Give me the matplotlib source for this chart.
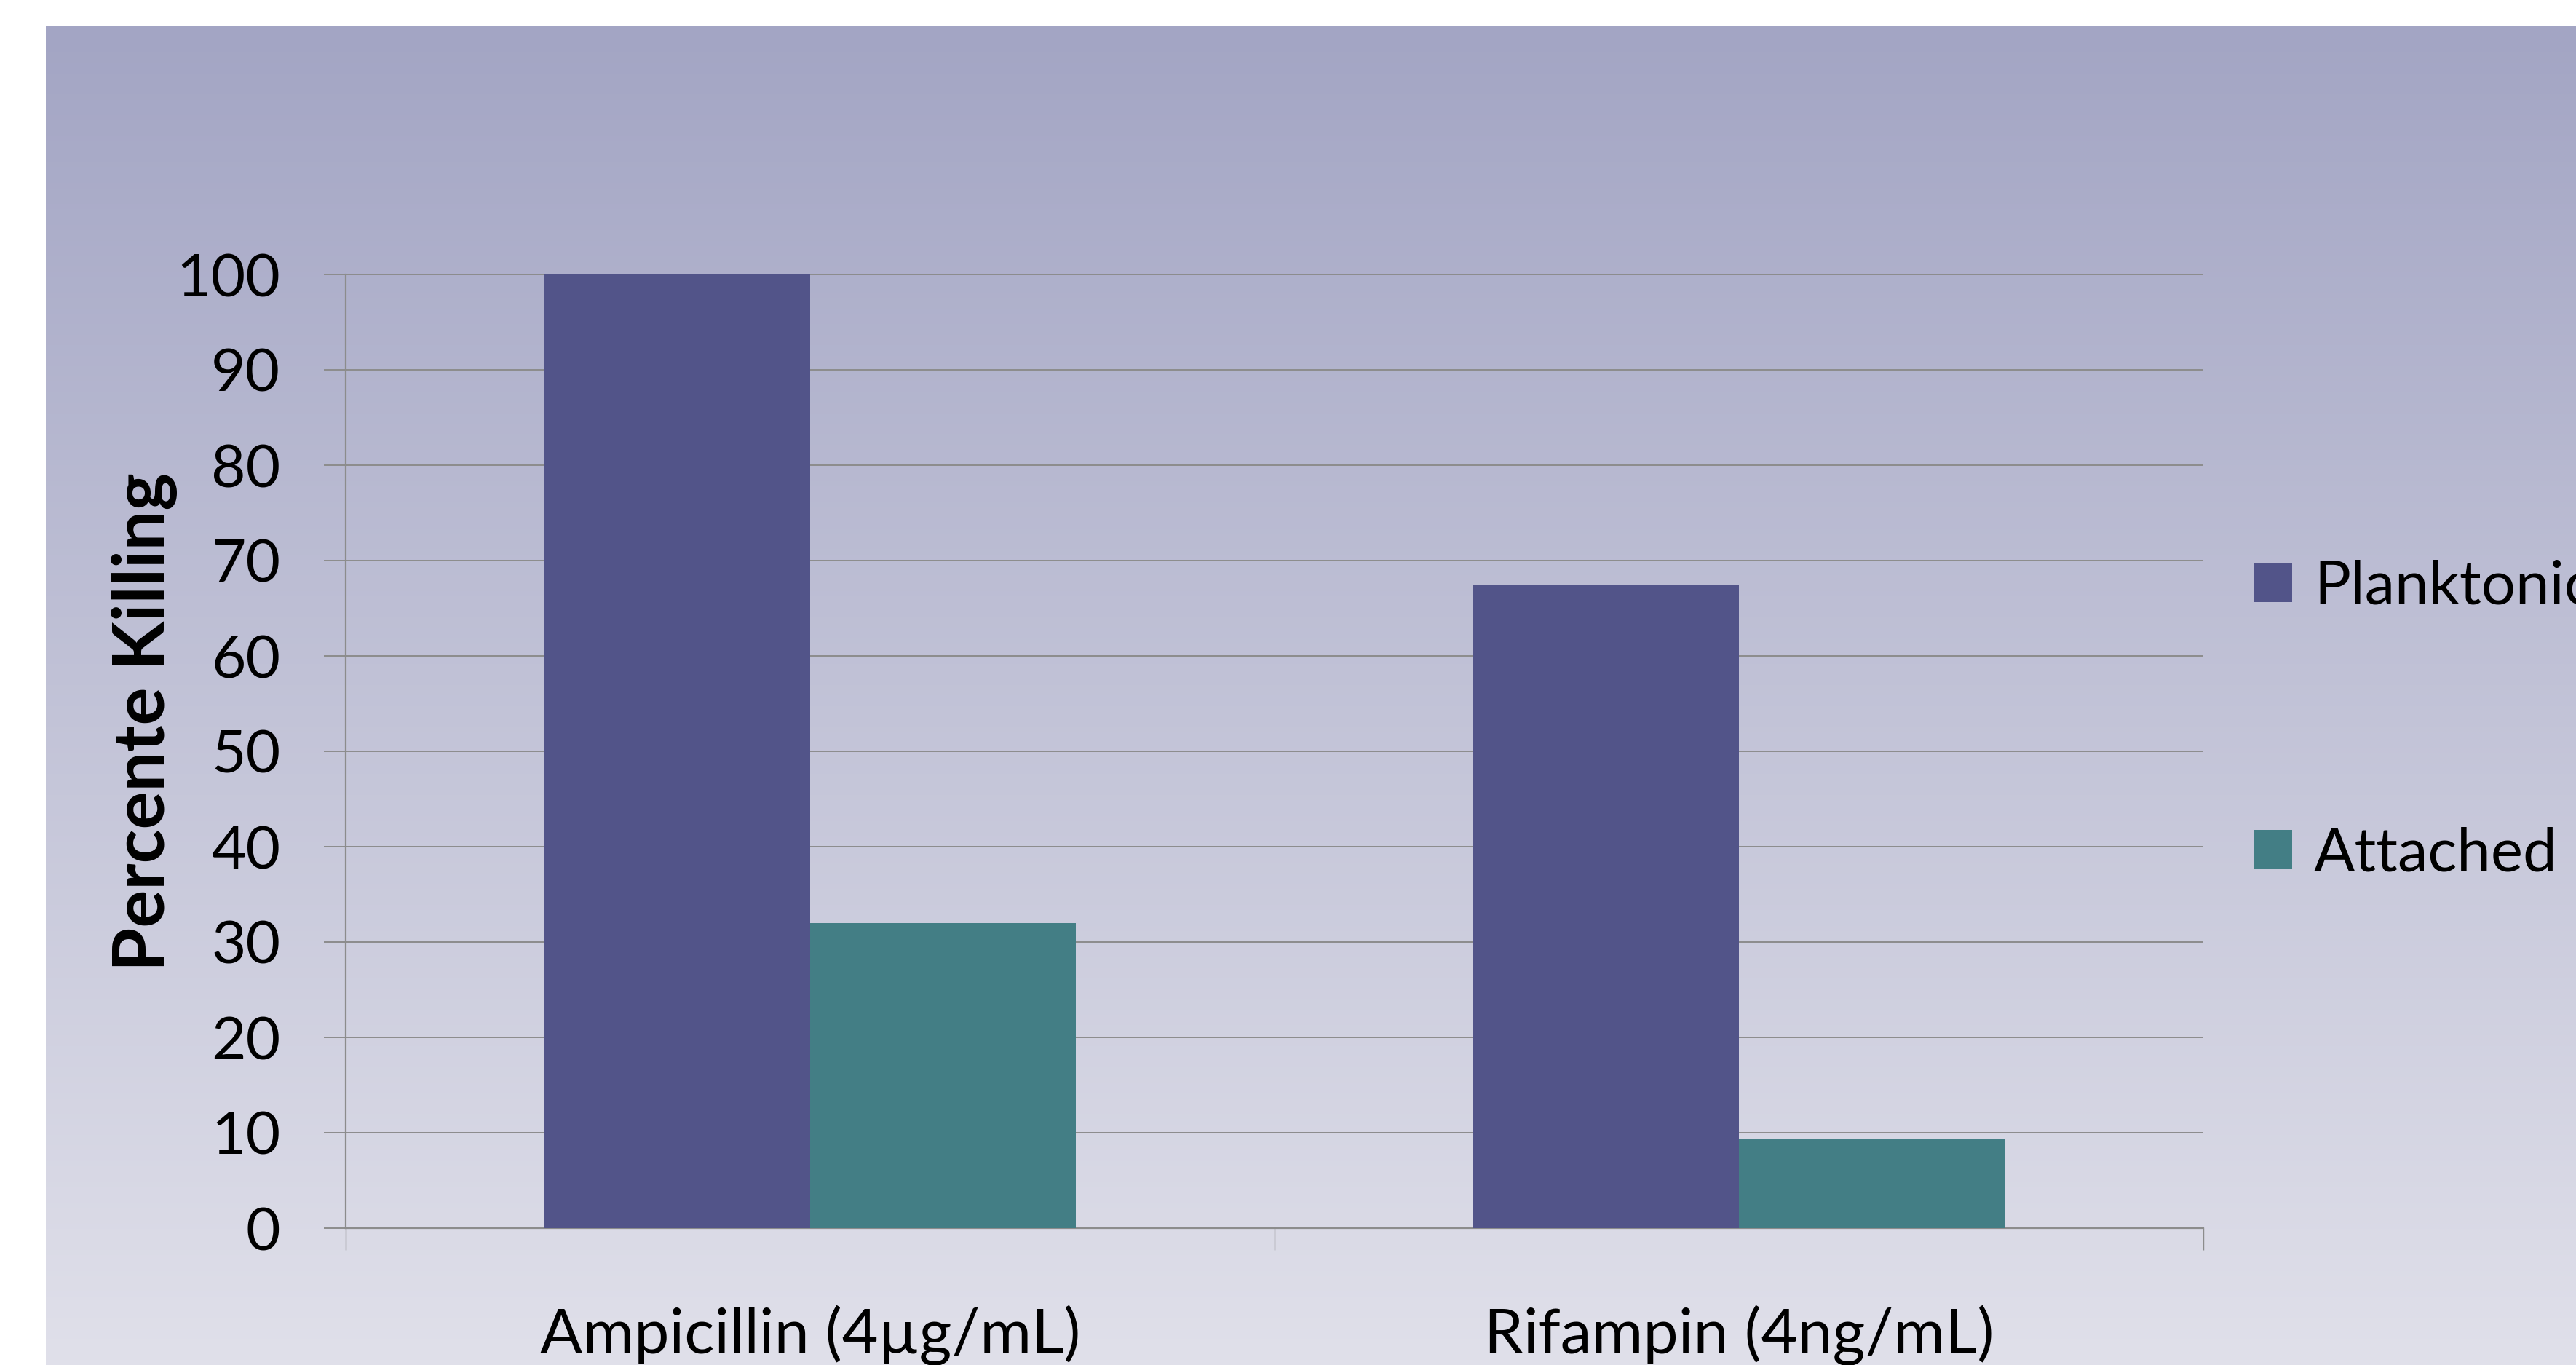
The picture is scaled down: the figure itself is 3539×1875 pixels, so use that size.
import numpy as np
import matplotlib
matplotlib.use('Agg')
import matplotlib.pyplot as plt
from matplotlib.patches import Patch

# datos
categorias = ['Ampicillin (4µg/mL)', 'Rifampin (4ng/mL)']
planktonic = [100, 67.5]
attached = [32.0, 9.3]
series = ['Planktonic', 'Attached']
yticks = list(range(0, 101, 10))

col_plank = '#525489'
col_att = '#437E85'
col_grid = '#8C8C8C'

plt.rcParams['font.family'] = ['Lato', 'DejaVu Sans']

W, H = 3539, 1875
fig = plt.figure(figsize=(W / 100, H / 100), dpi=100)
fig.patch.set_facecolor('white')

####### fondo con gradiente (panel desde x=63, y=36)
bg = fig.add_axes([63 / W, 0, 1 - 63 / W, 1 - 36 / H], zorder=0)
top = np.array([163, 165, 196]) / 255
bot = np.array([224, 224, 234]) / 255
t = np.linspace(0, 1, 256)[:, None]
grad = (top[None, :] * (1 - t) + bot[None, :] * t)[:, None, :]
bg.imshow(grad, aspect='auto', extent=[0, 1, 0, 1])
bg.axis('off')

####### ejes principales
ax = fig.add_axes([475 / W, 1 - 1687 / H, (3027 - 475) / W, (1687 - 377) / H], zorder=1)
ax.patch.set_alpha(0)

x = np.arange(len(categorias))
w = 1 / 3.5                                                   # gap width 150%
ax.bar(x - w / 2, planktonic, w, color=col_plank, zorder=3, label=series[0])
ax.bar(x + w / 2, attached, w, color=col_att, zorder=3, label=series[1])

ax.set_xlim(-0.5, len(categorias) - 0.5)
ax.set_ylim(0, 100)
ax.set_yticks(yticks)
ax.yaxis.grid(True, color=col_grid, linewidth=1.4, zorder=1)
ax.set_axisbelow(True)

for s in ['top', 'right']:
    ax.spines[s].set_visible(False)
for s in ['left', 'bottom']:
    ax.spines[s].set_color(col_grid)
    ax.spines[s].set_linewidth(1.6)

ax.tick_params(axis='y', length=21.6, width=1.4, color=col_grid, labelsize=59, pad=43)
ax.set_xticks(x)
ax.set_xticklabels(categorias)
ax.set_xticks(np.arange(-0.5, len(categorias), 1), minor=True)
ax.tick_params(axis='x', which='major', length=0, labelsize=62, pad=76)
ax.tick_params(axis='x', which='minor', length=21.6, width=1.0, color=col_grid)

fig.text(199 / W, 1 - 992 / H, 'Percente Killing', rotation=90, ha='center', va='center',
         fontsize=70, fontweight='bold')

####### leyenda
handles = [Patch(facecolor=col_plank), Patch(facecolor=col_att)]
ax.legend(handles, series, loc='upper left', bbox_to_anchor=(3097 / W, 1 - 768 / H),
          bbox_transform=fig.transFigure, frameon=False, fontsize=60, borderpad=0,
          borderaxespad=0, handlelength=0.625, handleheight=0.625, handletextpad=0.36,
          labelspacing=3.5)

plt.savefig('out.png', dpi=100, facecolor=fig.get_facecolor())
